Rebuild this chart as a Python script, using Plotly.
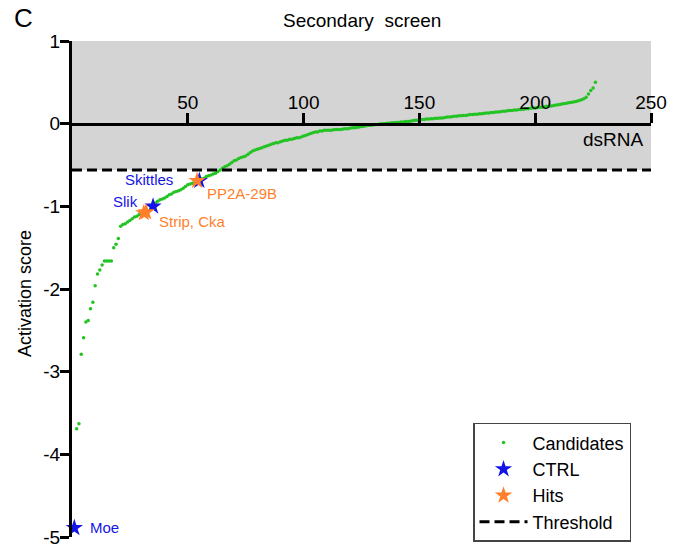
import plotly.graph_objects as go

# ---------------- data ----------------
cand_x = list(range(2, 227))
cand_y = [
    -3.69, -3.63, -2.79, -2.59, -2.40, -2.38, -2.24, -2.16, -1.96, -1.82,
    -1.77, -1.71, -1.66, -1.66, -1.66, -1.66, -1.50, -1.46, -1.39, -1.24,
    -1.22, -1.21, -1.19, -1.17, -1.15, -1.13, -1.12, -1.10, -1.09, -1.08,
    -1.07, -1.06, -1.03, -1.00, -0.96, -0.94, -0.92, -0.91, -0.90, -0.88,
    -0.86, -0.85, -0.83, -0.82, -0.81, -0.80, -0.78, -0.76, -0.74, -0.73,
    -0.72, -0.71, -0.70, -0.69, -0.67, -0.66, -0.64, -0.63, -0.62, -0.61,
    -0.60, -0.58, -0.56, -0.54, -0.52, -0.51, -0.49, -0.47, -0.45, -0.44,
    -0.42, -0.41, -0.40, -0.39, -0.37, -0.35, -0.33, -0.32, -0.31, -0.30,
    -0.29, -0.28, -0.27, -0.26, -0.25, -0.24, -0.23, -0.23, -0.22, -0.21,
    -0.20, -0.20, -0.19, -0.19, -0.18, -0.17, -0.17, -0.16, -0.15, -0.14,
    -0.13, -0.12, -0.11, -0.10, -0.10, -0.09, -0.09, -0.08, -0.08, -0.08,
    -0.08, -0.075, -0.07, -0.07, -0.07, -0.065, -0.06, -0.06, -0.055, -0.05,
    -0.05, -0.045, -0.04, -0.035, -0.03, -0.025, -0.02, -0.02, -0.015, -0.01,
    -0.01, -0.005, 0.0, 0.0, 0.005, 0.005, 0.01, 0.01, 0.015, 0.015,
    0.02, 0.02, 0.025, 0.025, 0.03, 0.035, 0.04, 0.04, 0.045, 0.05,
    0.05, 0.055, 0.055, 0.06, 0.06, 0.065, 0.065, 0.07, 0.07, 0.075,
    0.08, 0.08, 0.085, 0.09, 0.09, 0.095, 0.095, 0.10, 0.10, 0.105,
    0.11, 0.11, 0.115, 0.115, 0.12, 0.12, 0.125, 0.13, 0.13, 0.135,
    0.135, 0.14, 0.14, 0.145, 0.15, 0.15, 0.155, 0.16, 0.16, 0.165,
    0.165, 0.17, 0.17, 0.175, 0.18, 0.18, 0.185, 0.19, 0.19, 0.195,
    0.20, 0.20, 0.205, 0.21, 0.21, 0.215, 0.22, 0.225, 0.23, 0.235,
    0.24, 0.245, 0.25, 0.255, 0.26, 0.265, 0.27, 0.28, 0.29, 0.30,
    0.32, 0.36, 0.40, 0.43, 0.50,
]

ctrl_names = ["Moe", "Slik", "Skittles"]
ctrl_x = [1, 35, 55]
ctrl_y = [-4.89, -1.00, -0.69]

hit_names = ["Strip", "Cka", "PP2A-29B"]
hit_x = [31, 32, 54]
hit_y = [-1.08, -1.07, -0.69]

threshold = -0.56

x_ticks = [50, 100, 150, 200, 250]
y_ticks = [-5, -4, -3, -2, -1, 0, 1]
x_range = [0, 250]
y_range = [-5, 1]

# ---------------- style ----------------
GREEN = "#22c322"
BLUE = "#1414e6"
ORANGE = "#ff7f2a"
GREY = "#d4d4d4"
FONT = "Liberation Sans, Arial, sans-serif"

fig = go.Figure()

fig.add_trace(go.Scatter(
    x=cand_x, y=cand_y, mode="markers", name="Candidates",
    marker=dict(color=GREEN, size=3.5, line=dict(width=0)),
    cliponaxis=False,
))
fig.add_trace(go.Scatter(
    x=ctrl_x, y=ctrl_y, mode="markers", name="CTRL",
    marker=dict(color=BLUE, size=13, symbol="star", line=dict(width=0)),
    cliponaxis=False,
))
fig.add_trace(go.Scatter(
    x=hit_x, y=hit_y, mode="markers", name="Hits",
    marker=dict(color=ORANGE, size=13, symbol="star", line=dict(width=0)),
    cliponaxis=False,
))
fig.add_trace(go.Scatter(
    x=x_range, y=[threshold, threshold], mode="lines", name="Threshold",
    line=dict(color="black", width=3, dash="10px,5px"),
    cliponaxis=False,
))

# grey band above threshold
fig.add_shape(type="rect", xref="x", yref="y",
              x0=x_range[0], x1=x_range[1], y0=threshold, y1=y_range[1],
              fillcolor=GREY, line=dict(width=0), layer="below")

# labels
label_font = dict(family=FONT, size=15)
fig.add_annotation(x=ctrl_x[2] - 10.5, y=ctrl_y[2] + 0.01, text="Skittles", showarrow=False,
                   xanchor="right", yanchor="middle", font=dict(label_font, color=BLUE))
fig.add_annotation(x=ctrl_x[1] - 5.6, y=ctrl_y[1] + 0.06, text="Slik", showarrow=False,
                   xanchor="right", yanchor="middle", font=dict(label_font, color=BLUE))
fig.add_annotation(x=ctrl_x[0] + 5.9, y=ctrl_y[0] + 0.0, text="Moe", showarrow=False,
                   xanchor="left", yanchor="middle", font=dict(label_font, color=BLUE))
fig.add_annotation(x=hit_x[1] + 4.7, y=hit_y[1] - 0.11, text="Strip, Cka", showarrow=False,
                   xanchor="left", yanchor="middle", font=dict(label_font, color=ORANGE))
fig.add_annotation(x=hit_x[2] + 3.4, y=hit_y[2] - 0.16, text="PP2A-29B", showarrow=False,
                   xanchor="left", yanchor="middle", font=dict(label_font, color=ORANGE))

# axis / panel texts
fig.add_annotation(x=248, y=-0.19, xref="x", yref="y", text="dsRNA", showarrow=False,
                   xanchor="right", yanchor="middle", font=dict(family=FONT, size=19, color="black"))
fig.add_annotation(x=0.5009, y=1.0416, xref="paper", yref="paper", text="Secondary&nbsp; screen",
                   showarrow=False, xanchor="center", yanchor="middle",
                   font=dict(family=FONT, size=19, color="black"))
fig.add_annotation(x=-0.0812, y=0.492, xref="paper", yref="paper", text="Activation score",
                   showarrow=False, xanchor="center", yanchor="middle", textangle=-90,
                   font=dict(family=FONT, size=18, color="black"))
fig.add_annotation(x=-0.1036, y=1.012, xref="paper", yref="paper", text="C",
                   showarrow=False, xanchor="left", yanchor="bottom",
                   font=dict(family=FONT, size=26, color="black"))

fig.update_layout(
    width=679, height=552,
    margin=dict(l=64, r=36, t=33, b=14),
    paper_bgcolor="white", plot_bgcolor="white",
    font=dict(family=FONT, size=19, color="black"),
    showlegend=True,
    legend=dict(
        x=0.6926, y=0.2300, xanchor="left", yanchor="top",
        bgcolor="white", bordercolor="#444444", borderwidth=1.5,
        font=dict(family=FONT, size=18, color="black"),
        itemsizing="trace", itemwidth=48, tracegroupgap=0,
    ),
    xaxis=dict(
        range=x_range, tickvals=x_ticks, ticktext=[str(t) for t in x_ticks],
        anchor="free", position=(0 - y_range[0]) / (y_range[1] - y_range[0]),
        side="top", showgrid=False, zeroline=False,
        showline=True, linecolor="black", linewidth=3,
        ticks="outside", ticklen=10, tickwidth=3, tickcolor="black",
        ticklabelstandoff=-4,
        tickfont=dict(family=FONT, size=19, color="black"),
    ),
    yaxis=dict(
        range=y_range, tickvals=y_ticks, ticktext=[str(t) for t in y_ticks],
        showgrid=False, zeroline=False,
        showline=True, linecolor="black", linewidth=3,
        ticks="outside", ticklen=9, tickwidth=3, tickcolor="black",
        ticklabelstandoff=-4,
        tickfont=dict(family=FONT, size=19, color="black"),
    ),
)

fig.write_html("out.html")
